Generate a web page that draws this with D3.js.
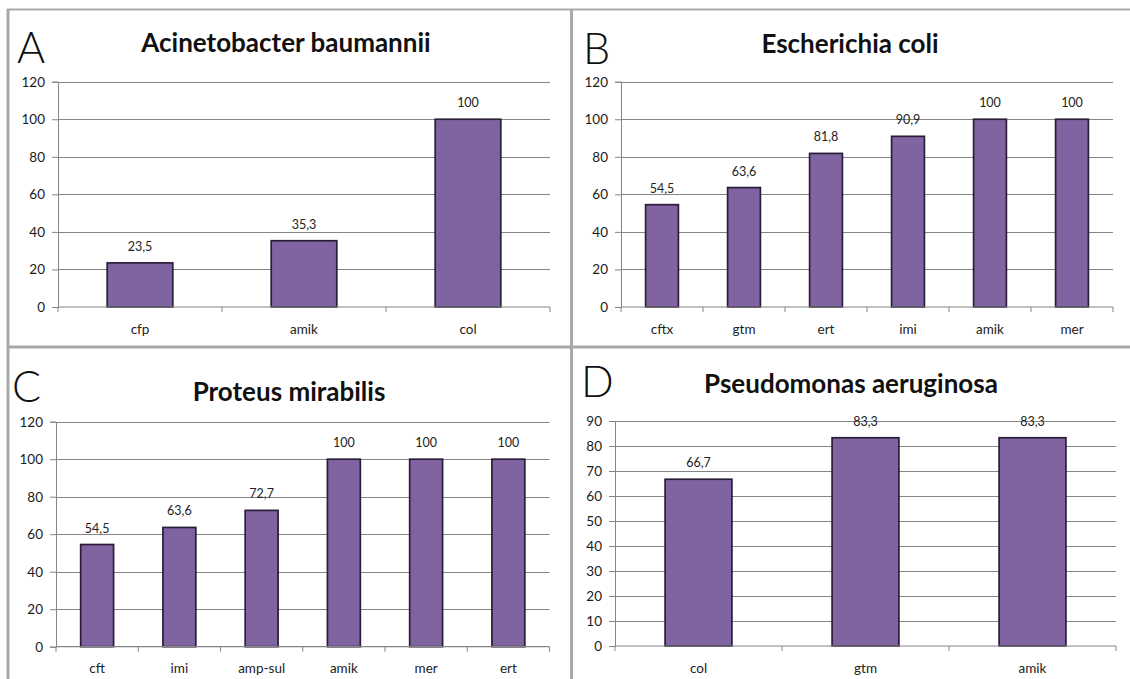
<!DOCTYPE html>
<html>
<head>
<meta charset="utf-8">
<script src="https://cdn.jsdelivr.net/npm/d3@7/dist/d3.min.js"></script>
<style>
  html, body { margin: 0; padding: 0; background: #fff; }
  svg { display: block; }
  text { font-family: Lato, "Open Sans", "DejaVu Sans", sans-serif; fill: #1a1a1a; }
</style>
</head>
<body>
<svg id="chart" width="1130" height="679"></svg>
<script>
// ---- data ----
const categoriesA = ["cfp", "amik", "col"];
const valuesA = [23.5, 35.3, 100];
const categoriesB = ["cftx", "gtm", "ert", "imi", "amik", "mer"];
const valuesB = [54.5, 63.6, 81.8, 90.9, 100, 100];
const categoriesC = ["cft", "imi", "amp-sul", "amik", "mer", "ert"];
const valuesC = [54.5, 63.6, 72.7, 100, 100, 100];
const categoriesD = ["col", "gtm", "amik"];
const valuesD = [66.7, 83.3, 83.3];
const panelLetters = ["A", "B", "C", "D"];
const panelTitles = ["Acinetobacter baumannii", "Escherichia coli", "Proteus mirabilis", "Pseudomonas aeruginosa"];
const yTicksA = [0, 20, 40, 60, 80, 100, 120];
const yTicksB = [0, 20, 40, 60, 80, 100, 120];
const yTicksC = [0, 20, 40, 60, 80, 100, 120];
const yTicksD = [0, 10, 20, 30, 40, 50, 60, 70, 80, 90];

// ---- layout (positions only) ----
const layout = [
  { cats: categoriesA, vals: valuesA, ticks: yTicksA, x0: 58,  x1: 550,  yTop: 81.7,  yBot: 307,   letterX: 17,  letterY: 63,  titleX: 286, titleY: 52 },
  { cats: categoriesB, vals: valuesB, ticks: yTicksB, x0: 621, x1: 1113, yTop: 81.7,  yBot: 307,   letterX: 583, letterY: 64,  titleX: 850, titleY: 53 },
  { cats: categoriesC, vals: valuesC, ticks: yTicksC, x0: 56,  x1: 549.5, yTop: 421.7, yBot: 646.7, letterX: 12,  letterY: 402, titleX: 289, titleY: 401 },
  { cats: categoriesD, vals: valuesD, ticks: yTicksD, x0: 615, x1: 1116, yTop: 421,   yBot: 646,   letterX: 581, letterY: 397, titleX: 851, titleY: 393 }
];

const svg = d3.select("#chart");
const locale = d3.formatLocale({ decimal: ",", thousands: ".", grouping: [3], currency: ["", ""] });
const fmt = locale.format("~f");

const GRID = "#858585";
const BAR = "#8064a2";
const BAR_STROKE = "#2a1d38";

// frame / dividers
const frame = svg.append("g").attr("stroke", "#a9a9a9").attr("fill", "none");
frame.append("line").attr("x1", 7).attr("x2", 1130).attr("y1", 9.5).attr("y2", 9.5).attr("stroke-width", 2);
frame.append("line").attr("x1", 8).attr("x2", 8).attr("y1", 9).attr("y2", 679).attr("stroke-width", 3);
frame.append("line").attr("x1", 571.5).attr("x2", 571.5).attr("y1", 9).attr("y2", 679).attr("stroke-width", 3);
frame.append("line").attr("x1", 7).attr("x2", 1130).attr("y1", 347).attr("y2", 347).attr("stroke-width", 3);

layout.forEach((p, i) => {
  const g = svg.append("g");
  const maxV = p.ticks[p.ticks.length - 1];
  const x = d3.scaleBand().domain(p.cats).range([p.x0, p.x1]).paddingInner(0.6).paddingOuter(0.3);
  const y = d3.scaleLinear().domain([0, maxV]).range([p.yBot, p.yTop]);

  // panel letter
  g.append("text").attr("x", p.letterX).attr("y", p.letterY)
    .style("font-size", "43px").style("font-weight", 300).style("fill", "#111")
    .text(panelLetters[i]);
  // title
  g.append("text").attr("x", p.titleX).attr("y", p.titleY).attr("text-anchor", "middle")
    .style("font-size", "26px").style("font-weight", 700).style("fill", "#111")
    .text(panelTitles[i]);

  // gridlines
  g.append("g").selectAll("line").data(p.ticks.filter(t => t > 0)).join("line")
    .attr("x1", p.x0).attr("x2", p.x1)
    .attr("y1", d => Math.round(y(d)) + 0.5).attr("y2", d => Math.round(y(d)) + 0.5)
    .attr("stroke", GRID).attr("stroke-width", 1);

  // y axis
  const yAxis = g.append("g").attr("transform", `translate(${p.x0},0)`)
    .call(d3.axisLeft(y).tickValues(p.ticks).tickSize(6).tickPadding(7).tickFormat(d => d));
  yAxis.select(".domain").attr("stroke", GRID);
  yAxis.selectAll(".tick line").attr("stroke", GRID);
  yAxis.selectAll(".tick text").style("font-size", "13.5px").style("font-family", "Lato, 'Open Sans', sans-serif").attr("fill", "#222");

  // bars
  g.append("g").selectAll("rect").data(p.vals).join("rect")
    .attr("x", (d, j) => x(p.cats[j]))
    .attr("width", x.bandwidth())
    .attr("y", d => y(d))
    .attr("height", d => y(0) - y(d))
    .attr("fill", BAR).attr("stroke", BAR_STROKE).attr("stroke-width", 1.7);

  // x axis line & boundary ticks
  const step = x.step();
  g.append("line").attr("x1", p.x0).attr("x2", p.x1).attr("y1", y(0)).attr("y2", y(0))
    .attr("stroke", GRID).attr("stroke-width", 1.2);
  g.append("g").selectAll("line").data(d3.range(p.cats.length + 1)).join("line")
    .attr("x1", k => p.x0 + k * step).attr("x2", k => p.x0 + k * step)
    .attr("y1", y(0)).attr("y2", y(0) + 5)
    .attr("stroke", GRID);

  // category labels
  g.append("g").selectAll("text").data(p.cats).join("text")
    .attr("x", d => x(d) + x.bandwidth() / 2).attr("y", y(0) + 26.5)
    .attr("text-anchor", "middle").style("font-size", "13.5px").style("fill", "#222")
    .text(d => d);

  // value labels
  g.append("g").selectAll("text").data(p.vals).join("text")
    .attr("x", (d, j) => x(p.cats[j]) + x.bandwidth() / 2).attr("y", d => y(d) - 12)
    .attr("text-anchor", "middle").style("font-size", "12.5px").style("fill", "#222")
    .text(d => fmt(d));
});
</script>
</body>
</html>
